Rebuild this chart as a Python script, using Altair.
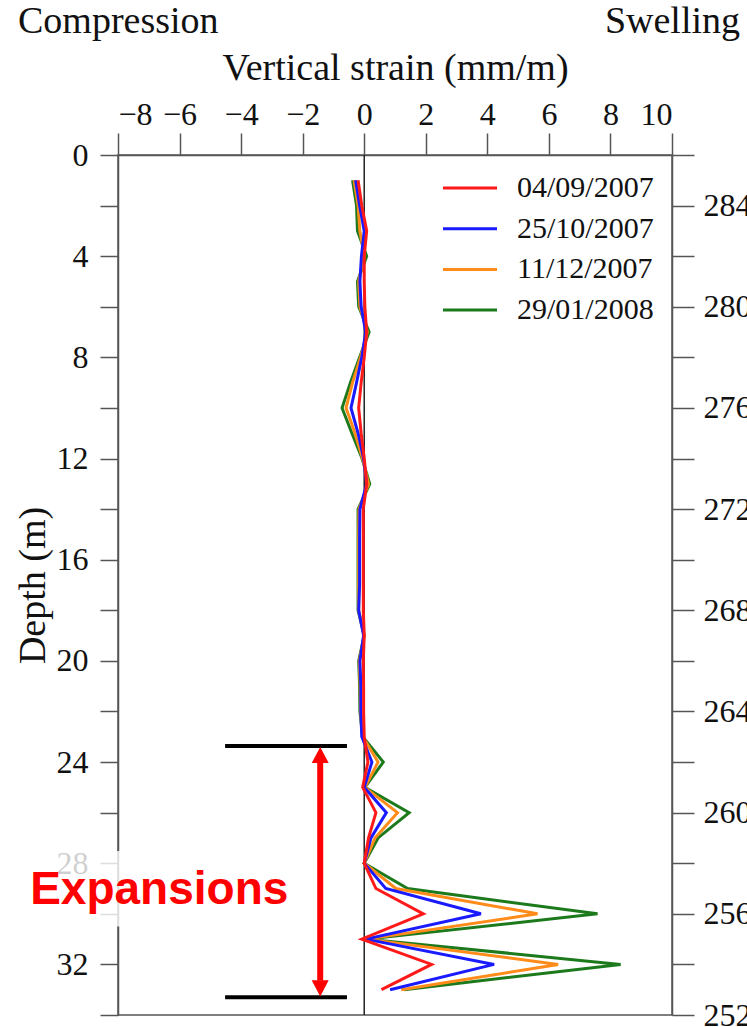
import altair as alt
import pandas as pd

# ---------------- data ----------------
depth = list(range(1, 34))  # m

series_names = ["04/09/2007", "25/10/2007", "11/12/2007", "29/01/2008"]
series_colors = ["#ff1a1a", "#1a1aff", "#ff8c1a", "#1c7a1c"]

strain_0409 = [-0.20, -0.08, 0.08, 0.00, 0.00, 0.02, 0.08, 0.00, -0.10, -0.18,
               -0.10, 0.00, 0.08, -0.03, -0.03, -0.03, -0.03, -0.03, 0.00, -0.03,
               -0.02, -0.02, 0.00, 0.12, -0.05, 0.38, 0.14, 0.00, 0.38, 1.92,
               -0.08, 2.19, 0.56]
strain_2510 = [-0.28, -0.15, 0.00, -0.09, -0.14, -0.10, 0.05, -0.08, -0.25, -0.43,
               -0.20, -0.02, 0.08, -0.14, -0.15, -0.15, -0.15, -0.18, -0.02, -0.14,
               -0.11, -0.11, -0.08, 0.25, 0.00, 0.72, 0.22, 0.00, 0.70, 3.79,
               0.05, 4.22, 0.84]
strain_1112 = [-0.33, -0.20, -0.14, 0.00, -0.18, -0.14, 0.10, -0.12, -0.38, -0.59,
               -0.30, -0.05, 0.14, -0.17, -0.18, -0.18, -0.18, -0.18, 0.00, -0.16,
               -0.13, -0.12, -0.05, 0.45, 0.02, 1.08, 0.35, 0.00, 1.03, 5.63,
               0.08, 6.30, 1.20]
strain_2901 = [-0.38, -0.25, -0.22, 0.08, -0.22, -0.18, 0.16, -0.15, -0.45, -0.72,
               -0.40, -0.07, 0.18, -0.20, -0.20, -0.20, -0.20, -0.20, 0.00, -0.18,
               -0.15, -0.14, -0.05, 0.62, 0.02, 1.46, 0.45, 0.00, 1.41, 7.58,
               0.10, 8.33, 1.30]

x_ticks = list(range(-8, 11, 2))
depth_ticks = list(range(0, 35, 2))
elev_ticks = list(range(252, 287, 2))

# ---------------- tables ----------------
series_values = {
    "04/09/2007": strain_0409,
    "25/10/2007": strain_2510,
    "11/12/2007": strain_1112,
    "29/01/2008": strain_2901,
}
rows = []
# draw order: green first, red last (red on top)
for name in reversed(series_names):
    for d, v in zip(depth, series_values[name]):
        rows.append({"series": name, "depth": d, "strain": v})
df = pd.DataFrame(rows)

legend_df = pd.DataFrame({"series": series_names, "idx": list(range(len(series_names)))})

SERIF = "Liberation Serif"
AXC = "#555555"

xscale = alt.Scale(domain=[-8, 10], nice=False, zero=False)
yscale = alt.Scale(domain=[0, 34], reverse=True, nice=False, zero=False)
cscale = alt.Scale(domain=series_names, range=series_colors)

X = alt.X(
    "strain:Q", scale=xscale,
    axis=alt.Axis(orient="top", values=x_ticks, title="Vertical strain (mm/m)",
                  tickSize=22, labelPadding=2, titlePadding=11, format="d"),
)
Y = alt.Y(
    "depth:Q", scale=yscale,
    axis=alt.Axis(orient="left", values=depth_ticks, title="Depth (m)",
                  labelExpr="datum.value % 4 == 0 ? datum.label : ''",
                  tickSize=18, labelPadding=12, titlePadding=4),
)

lines = alt.Chart(df).mark_line(strokeWidth=3).encode(
    x=X, y=Y,
    color=alt.Color("series:N", scale=cscale, legend=None),
    detail="series:N",
    order=alt.Order("depth:Q"),
)

zero_rule = alt.Chart(pd.DataFrame({"x": [0]})).mark_rule(color="#222222", strokeWidth=1.5).encode(
    x=alt.X("x:Q", scale=xscale)
)

# ---------------- annotations ----------------
white_box = alt.Chart(pd.DataFrame({"x": [-11.0], "x2": [-2.6], "y": [27.52], "y2": [30.5]})).mark_rect(
    color="white", opacity=0.8
).encode(
    x=alt.X("x:Q", scale=xscale), x2="x2:Q",
    y=alt.Y("y:Q", scale=yscale), y2="y2:Q",
)

bracket = alt.Chart(pd.DataFrame({"x": [-4.52, -4.52], "x2": [-0.56, -0.56], "y": [23.37, 33.30]})).mark_rule(
    color="black", strokeWidth=4
).encode(x=alt.X("x:Q", scale=xscale), x2="x2:Q", y=alt.Y("y:Q", scale=yscale))

shaft = alt.Chart(pd.DataFrame({"x": [-1.43], "y": [24.0], "y2": [32.65]})).mark_rule(
    color="#ff0000", strokeWidth=6
).encode(x=alt.X("x:Q", scale=xscale), y=alt.Y("y:Q", scale=yscale), y2="y2:Q")

head_up = alt.Chart(pd.DataFrame({"x": [-1.43], "y": [24.04]})).mark_point(
    shape="M-1,0L1,0L0,-1.9Z", filled=True, size=289, color="#ff0000", opacity=1, strokeWidth=0
).encode(x=alt.X("x:Q", scale=xscale), y=alt.Y("y:Q", scale=yscale))

head_down = alt.Chart(pd.DataFrame({"x": [-1.43], "y": [32.63]})).mark_point(
    shape="M-1,0L1,0L0,1.9Z", filled=True, size=289, color="#ff0000", opacity=1, strokeWidth=0
).encode(x=alt.X("x:Q", scale=xscale), y=alt.Y("y:Q", scale=yscale))

expansions = alt.Chart(pd.DataFrame({"x": [-6.66], "y": [29.62], "t": ["Expansions"]})).mark_text(
    font="Liberation Sans", fontSize=46, fontWeight="bold", color="#ff0000",
    align="center", baseline="alphabetic"
).encode(x=alt.X("x:Q", scale=xscale), y=alt.Y("y:Q", scale=yscale), text="t:N")

corner_left = alt.Chart(pd.DataFrame({"t": ["Compression"]})).mark_text(
    font=SERIF, fontSize=38, color="#111111", align="left", baseline="middle"
).encode(x=alt.value(-100), y=alt.value(-133), text="t:N")

corner_right = alt.Chart(pd.DataFrame({"t": ["Swelling"]})).mark_text(
    font=SERIF, fontSize=38, color="#111111", align="right", baseline="middle"
).encode(x=alt.value(622), y=alt.value(-133), text="t:N")

# ---------------- legend (drawn from the series list) ----------------
leg_base = alt.Chart(legend_df).transform_calculate(ly="33 + datum.idx * 40.7")
leg_lines = leg_base.mark_rule(strokeWidth=3).encode(
    x=alt.value(325), x2=alt.value(379),
    y=alt.Y("ly:Q", scale=None),
    color=alt.Color("series:N", scale=cscale, legend=None),
)
leg_text = leg_base.mark_text(font=SERIF, fontSize=30, color="#111111", align="left", baseline="middle").encode(
    x=alt.value(399), y=alt.Y("ly:Q", scale=None), text="series:N"
)

main = alt.layer(
    zero_rule, lines, white_box, bracket, shaft, head_up, head_down, expansions,
    corner_left, corner_right, leg_lines, leg_text,
)

# right axis: elevation (m) = 286 - depth
right_axis = alt.Chart(df).transform_calculate(elev="286 - datum.depth").mark_point(opacity=0).encode(
    x=alt.X("strain:Q", scale=xscale),
    y=alt.Y("elev:Q", scale=alt.Scale(domain=[252, 286], nice=False, zero=False),
            axis=alt.Axis(orient="right", values=elev_ticks, title=None,
                          labelExpr="datum.value % 4 == 0 ? datum.label : ''",
                          tickSize=22, labelPadding=9)),
)

chart = alt.layer(main, right_axis).resolve_scale(y="independent").properties(
    width=554, height=860,
    autosize=alt.AutoSizeParams(type="none"),
    padding={"left": 118, "top": 155, "right": 75, "bottom": 12},
    background="white",
).configure_axis(
    grid=False,
    domainColor=AXC, domainWidth=1.5,
    tickColor=AXC, tickWidth=1.5,
    labelFont=SERIF, labelFontSize=32, labelColor="#111111",
    titleFont=SERIF, titleFontSize=38, titleFontWeight="normal", titleColor="#111111",
).configure_view(stroke=AXC, strokeWidth=1.5)

chart.save("out.html", embed_options={"renderer": "svg", "actions": False})
